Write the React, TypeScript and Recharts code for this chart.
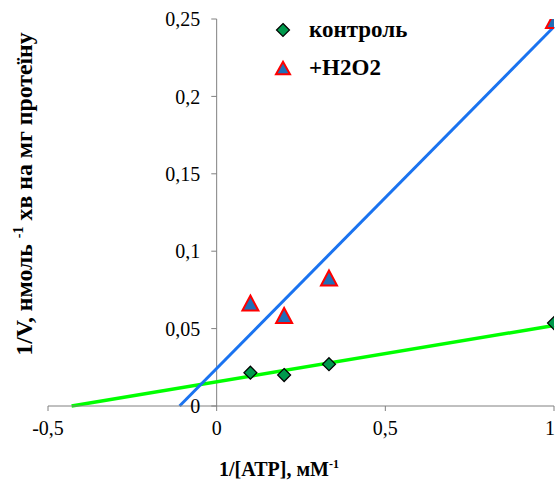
import { ComposedChart, Scatter, XAxis, YAxis, ReferenceLine } from 'recharts'

// values
const xControl = [0.1, 0.2, 0.333, 1]
const yControl = [0.0215, 0.02, 0.027, 0.0536]
const xH2O2 = [0.1, 0.2, 0.333, 1]
const yH2O2 = [0.0665, 0.0585, 0.0827, 0.249]

// trendline ends (x, y)
const controlTrend = [[-0.43, 0], [1, 0.052]]
const h2o2Trend = [[-0.11, 0], [1, 0.245]]

const xTicks = [-0.5, 0, 0.5, 1]
const yTicks = [0, 0.05, 0.1, 0.15, 0.2, 0.25]

const controlData = xControl.map((x, i) => ({ x, y: yControl[i] }))
const h2o2Data = xH2O2.map((x, i) => ({ x, y: yH2O2[i] }))

const fmt = (v: number) => String(v).replace('.', ',')
const serif = '"Liberation Serif", "Times New Roman", serif'
const axisGray = '#808080'

const css = `
body { margin: 0; }
.chart-box, .chart-box text { font-family: "Liberation Serif", "Times New Roman", serif; }
`

const Diamond = ({ cx, cy, r = 6.5 }: any) => (
  <path
    d={`M${cx},${cy - r}L${cx + r},${cy}L${cx},${cy + r}L${cx - r},${cy}Z`}
    fill="#00994c"
    stroke="#000"
    strokeWidth={1.2}
  />
)

const Triangle = ({ cx, cy, w = 16, h = 15 }: any) => (
  <path
    d={`M${cx},${cy - h / 2}L${cx + w / 2},${cy + h / 2}L${cx - w / 2},${cy + h / 2}Z`}
    fill="#1f6fb8"
    stroke="#ff0000"
    strokeWidth={2}
  />
)

export default function App() {
  return (
    <div className="chart-box" style={{ position: 'relative', width: 555, height: 480 }}>
      <style>{css}</style>
      <ComposedChart width={555} height={480} margin={{ top: 19, right: 1, left: 48, bottom: 0 }}>
        <XAxis
          type="number"
          dataKey="x"
          domain={[-0.5, 1]}
          ticks={xTicks}
          tickFormatter={fmt}
          allowDataOverflow
          height={74}
          stroke={axisGray}
          tickSize={5}
          tickMargin={10}
          tick={{ fill: '#000', fontSize: 20 }}
        />
        <YAxis type="number" dataKey="y" domain={[0, 0.25]} hide allowDataOverflow />

        {/* vertical axis crossing at x = 0 */}
        <ReferenceLine x={0} stroke={axisGray} strokeWidth={1} />
        {yTicks.map((t) => (
          <ReferenceLine
            key={t}
            segment={[{ x: -0.016, y: t }, { x: 0, y: t }]}
            stroke={axisGray}
            ifOverflow="visible"
            label={{ value: fmt(t), position: 'left', offset: 11, fill: '#000', fontSize: 20 }}
          />
        ))}

        <Scatter data={controlData} shape={<Diamond />} isAnimationActive={false} />
        <Scatter data={h2o2Data} shape={<Triangle />} isAnimationActive={false} />

        <ReferenceLine
          segment={controlTrend.map(([x, y]) => ({ x, y }))}
          stroke="#00ff00"
          strokeWidth={3.5}
          ifOverflow="visible"
        />
        <ReferenceLine
          segment={h2o2Trend.map(([x, y]) => ({ x, y }))}
          stroke="#1a73f0"
          strokeWidth={3}
          ifOverflow="visible"
        />
      </ComposedChart>

      {/* legend */}
      <div style={{ position: 'absolute', left: 272, top: 11, fontSize: 23, fontWeight: 'bold', lineHeight: '38px' }}>
        <div style={{ display: 'flex', alignItems: 'center' }}>
          <svg width={24} height={20} style={{ marginRight: 13 }}>
            <Diamond cx={11} cy={10} r={6.5} />
          </svg>
          <span>контроль</span>
        </div>
        <div style={{ display: 'flex', alignItems: 'center' }}>
          <svg width={24} height={20} style={{ marginRight: 13 }}>
            <Triangle cx={11} cy={10} w={14} h={12.5} />
          </svg>
          <span>+H2O2</span>
        </div>
      </div>

      {/* axis titles */}
      <div
        style={{
          position: 'absolute',
          left: 279,
          top: 469,
          transform: 'translate(-50%, -50%)',
          whiteSpace: 'nowrap',
          fontSize: 20,
          fontWeight: 'bold',
          fontFamily: serif,
        }}
      >
        1/[ATP], мМ<sup style={{ fontSize: 12 }}>-1</sup>
      </div>
      <div
        style={{
          position: 'absolute',
          left: 24,
          top: 194,
          transform: 'translate(-50%, -50%) rotate(-90deg)',
          whiteSpace: 'nowrap',
          fontSize: 23.8,
          fontWeight: 'bold',
          fontFamily: serif,
        }}
      >
        1/V, нмоль <sup style={{ fontSize: 14 }}>-1</sup> хв на мг протеїну
      </div>
    </div>
  )
}
